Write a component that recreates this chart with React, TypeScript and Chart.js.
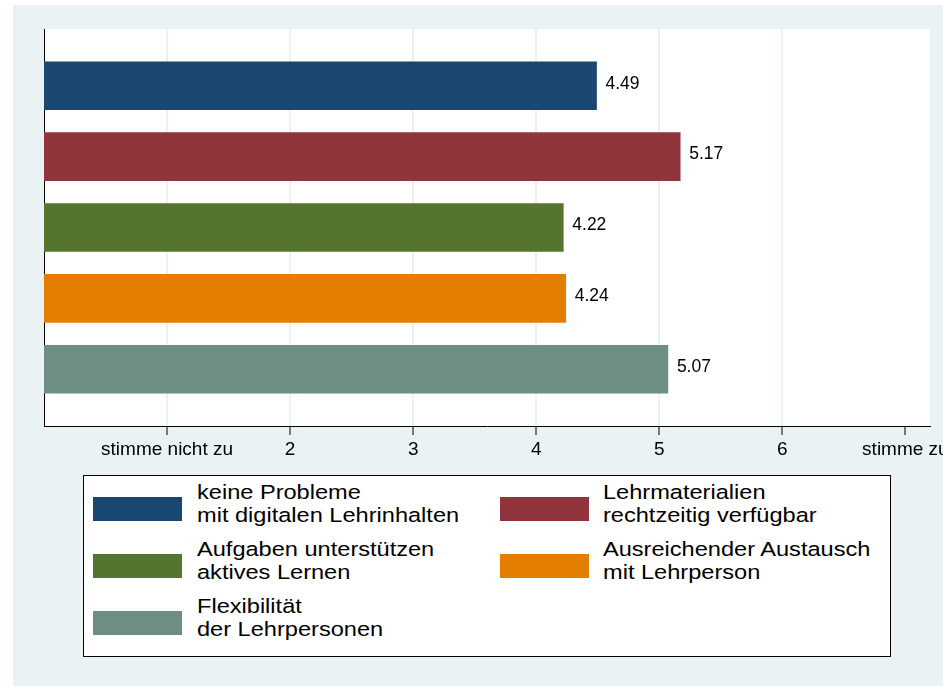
import React, { useEffect, useRef } from "react";
import { Chart, registerables } from "chart.js";

Chart.register(...registerables);

const categories = [
  "keine Probleme\nmit digitalen Lehrinhalten",
  "Lehrmaterialien\nrechtzeitig verfügbar",
  "Aufgaben unterstützen\naktives Lernen",
  "Ausreichender Austausch\nmit Lehrperson",
  "Flexibilität\nder Lehrpersonen",
];
const values = [4.49, 5.17, 4.22, 4.24, 5.07];
const colors = ["#1A476F", "#90353B", "#55752F", "#E37E00", "#6E8E84"];
const tickValues = [1, 2, 3, 4, 5, 6, 7];
const tickLabels = ["stimme nicht zu", "2", "3", "4", "5", "6", "stimme zu"];
// legend order: row-major, two columns
const legendOrder = [0, 1, 2, 3, 4];

const FONT = '"Liberation Sans", Arial, Helvetica, sans-serif';
const BG = "#EAF2F3";

export default function App() {
  const canvasRef = useRef<HTMLCanvasElement | null>(null);

  useEffect(() => {
    document.body.style.margin = "0";
    const canvas = canvasRef.current;
    if (!canvas) return;

    const plotBg = {
      id: "plotBg",
      beforeDraw(chart: any) {
        const { ctx, chartArea } = chart;
        ctx.save();
        ctx.fillStyle = "#ffffff";
        ctx.fillRect(chartArea.left, chartArea.top, chartArea.right - chartArea.left, chartArea.bottom - chartArea.top);
        ctx.restore();
      },
    };

    const valueLabels = {
      id: "valueLabels",
      afterDatasetsDraw(chart: any) {
        const { ctx } = chart;
        ctx.save();
        ctx.fillStyle = "#000";
        ctx.font = `17.5px ${FONT}`;
        ctx.textBaseline = "middle";
        ctx.textAlign = "left";
        chart.data.datasets.forEach((ds: any, i: number) => {
          const meta = chart.getDatasetMeta(i);
          meta.data.forEach((el: any, j: number) => {
            const v = ds.data[j].x;
            ctx.fillText(v.toFixed(2), el.x + 9, el.y - 2);
          });
        });
        ctx.restore();
      },
    };

    const chart = new Chart(canvas, {
      type: "bar",
      data: {
        datasets: values.map((v, i) => ({
          label: categories[i],
          data: [{ x: v, y: i + 1 }],
          backgroundColor: colors[i],
          borderWidth: 0,
          barThickness: 48,
          grouped: false,
        })) as any,
      },
      options: {
        indexAxis: "y",
        responsive: false,
        animation: false,
        devicePixelRatio: 1,
        layout: { padding: { left: 44, top: 29, right: 13, bottom: 220 } },
        plugins: {
          legend: { display: false },
          tooltip: { enabled: false },
        },
        scales: {
          x: {
            type: "linear",
            position: "bottom",
            min: 0,
            max: 7.2,
            offset: false,
            afterBuildTicks: (s: any) => {
              s.ticks = tickValues.map((v) => ({ value: v }));
            },
            afterFit: (s: any) => {
              s.height = 40;
              s.paddingLeft = 0;
              s.paddingRight = 0;
            },
            grid: {
              color: (c: any) => (c.tick && c.tick.value >= 1 && c.tick.value <= 6 ? BG : "rgba(0,0,0,0)"),
              lineWidth: 2,
              tickColor: "#000",
              tickLength: 9,
              tickWidth: 1,
              drawTicks: true,
              offset: false,
            },
            border: { display: true, color: "#000", width: 1 },
            ticks: {
              autoSkip: false,
              maxRotation: 0,
              padding: 3,
              color: "#000",
              font: { family: FONT, size: 19 },
              callback: (val: any) => {
                const idx = tickValues.indexOf(Number(val));
                return idx >= 0 ? tickLabels[idx] : "";
              },
            },
          },
          y: {
            type: "linear",
            min: 0.2,
            max: 5.8,
            reverse: true,
            offset: false,
            afterFit: (s: any) => {
              s.width = 0;
            },
            ticks: { display: false },
            grid: { display: false, drawTicks: false, offset: false },
            border: { display: true, color: "#000", width: 1 },
          },
        },
      } as any,
      plugins: [plotBg, valueLabels],
    });

    return () => chart.destroy();
  }, []);

  const colLeft = [93, 500];
  const textLeft = [197, 603];
  const rowTop = [497, 554, 611];

  return (
    <div style={{ position: "absolute", left: 0, top: 0, width: 943, height: 686, background: "#fff", overflow: "hidden" }}>
      <div style={{ position: "absolute", left: 13, top: 5, width: 930, height: 681, background: BG }} />
      <canvas ref={canvasRef} width={943} height={686} style={{ position: "absolute", left: 0, top: 0, width: 943, height: 686 }} />
      <div
        style={{
          position: "absolute",
          left: 83,
          top: 475,
          width: 806,
          height: 180,
          background: "#fff",
          border: "1px solid #000",
        }}
      />
      {legendOrder.map((k, n) => {
        const col = n % 2;
        const row = Math.floor(n / 2);
        const lines = categories[k].split("\n");
        return (
          <React.Fragment key={k}>
            <div
              style={{
                position: "absolute",
                left: colLeft[col],
                top: rowTop[row],
                width: 89,
                height: 24,
                background: colors[k],
              }}
            />
            <div
              style={{
                position: "absolute",
                left: textLeft[col],
                top: rowTop[row] - 17,
                fontFamily: FONT,
                fontSize: 20.5,
                lineHeight: "23px",
                color: "#000",
                whiteSpace: "nowrap",
                transform: "scaleX(1.15)",
                transformOrigin: "left top",
              }}
            >
              {lines.map((l, i) => (
                <div key={i}>{l}</div>
              ))}
            </div>
          </React.Fragment>
        );
      })}
    </div>
  );
}
